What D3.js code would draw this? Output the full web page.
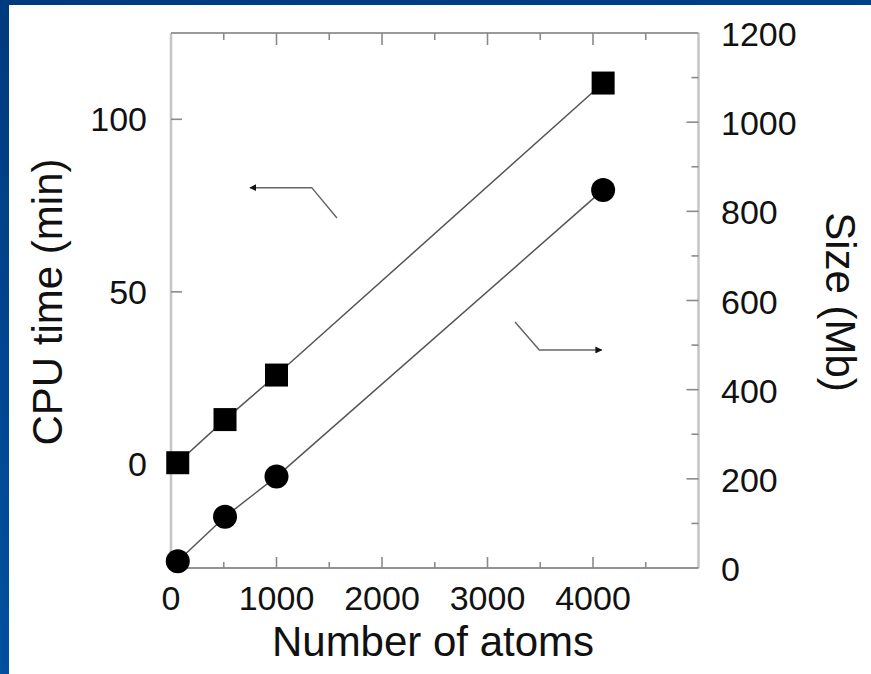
<!DOCTYPE html>
<html>
<head>
<meta charset="utf-8">
<script src="https://cdn.jsdelivr.net/npm/d3@7"></script>
<style>
  html, body { margin: 0; padding: 0; }
  svg { display: block; font-family: "Liberation Sans", Arial, Helvetica, sans-serif; }
</style>
</head>
<body>
<svg width="871" height="674"></svg>
<script>
// data
const atoms = [64, 512, 1000, 4096];
const cpuTime = [0.5, 13, 25.9, 110.5]; // min, left axis (squares)
const sizeMb = [15, 115, 205, 848]; // Mb, right axis (circles)

const xTicks = [0, 1000, 2000, 3000, 4000];
const xMinorTicks = [500, 1500, 2500, 3500, 4500];
const cpuTicks = [0, 50, 100];
const sizeTicks = [0, 200, 400, 600, 800, 1000, 1200];
const sizeMinorTicks = [100, 300, 500, 700, 900, 1100];

// annotation arrows, in data units of the axis they point to
const cpuArrow = [[749, 80.2], [1334, 80.2], [1573, 71.4]];
const sizeArrow = [[3261, 552], [3491, 489], [4082, 489]];

const svg = d3.select("svg");

// slide background
const defs = svg.append("defs");
const grad = defs.append("linearGradient")
  .attr("id", "bg")
  .attr("x1", 0).attr("y1", 0).attr("x2", 0.3).attr("y2", 1);
grad.append("stop").attr("offset", "0%").attr("stop-color", "#003a7e");
grad.append("stop").attr("offset", "100%").attr("stop-color", "#0052a3");
defs.append("marker")
  .attr("id", "head")
  .attr("viewBox", "0 0 10 10")
  .attr("refX", 9).attr("refY", 5)
  .attr("markerWidth", 7).attr("markerHeight", 7)
  .attr("markerUnits", "userSpaceOnUse")
  .attr("orient", "auto")
  .append("path")
  .attr("d", "M0,0L10,5L0,10z")
  .style("fill", "#111");

svg.append("rect").attr("width", 871).attr("height", 674).style("fill", "url(#bg)");
svg.append("rect").attr("x", 9).attr("y", 5).attr("width", 862).attr("height", 669).style("fill", "#fff");

const pLeft = 171, pRight = 698.5, pTop = 33, pBottom = 568;

const x = d3.scaleLinear().domain([0, 5000]).range([pLeft, pRight]);
const yCpu = d3.scaleLinear().domain([-30, 125]).range([pBottom, pTop]);
const ySize = d3.scaleLinear().domain([0, 1200]).range([pBottom, pTop]);

const frame = svg.append("g");
const tickColor = "#8a8a8a";

// frame lines
frame.append("line").attr("x1", pLeft).attr("x2", pLeft).attr("y1", pTop).attr("y2", pBottom)
  .style("stroke", "#c4c4c4").style("stroke-width", "2.5px");
frame.append("line").attr("x1", pRight).attr("x2", pRight).attr("y1", pTop).attr("y2", pBottom)
  .style("stroke", "#c4c4c4").style("stroke-width", "2.5px");
frame.append("line").attr("x1", pLeft).attr("x2", pRight).attr("y1", pTop).attr("y2", pTop)
  .style("stroke", "#9a9a9a").style("stroke-width", "2px");
frame.append("line").attr("x1", pLeft).attr("x2", pRight).attr("y1", pBottom).attr("y2", pBottom)
  .style("stroke", "#6e6e6e").style("stroke-width", "1.6px");

// x ticks, bottom and top, pointing inward
const xAll = xTicks.map((d) => ({ v: d, len: 11 }))
  .concat(xMinorTicks.map((d) => ({ v: d, len: 6 })))
  .filter((d) => d.v > 0);
frame.selectAll(".xb").data(xAll).join("line")
  .attr("x1", (d) => x(d.v)).attr("x2", (d) => x(d.v))
  .attr("y1", pBottom).attr("y2", (d) => pBottom - d.len)
  .style("stroke", tickColor).style("stroke-width", "1.6px");
frame.selectAll(".xt").data(xAll).join("line")
  .attr("x1", (d) => x(d.v)).attr("x2", (d) => x(d.v))
  .attr("y1", pTop).attr("y2", (d) => pTop + d.len + 1)
  .style("stroke", tickColor).style("stroke-width", "1.6px");

// left ticks
frame.selectAll(".yl").data(cpuTicks).join("line")
  .attr("x1", pLeft).attr("x2", pLeft + 11)
  .attr("y1", (d) => yCpu(d)).attr("y2", (d) => yCpu(d))
  .style("stroke", tickColor).style("stroke-width", "1.6px");

// right ticks
const sizeAll = sizeTicks.map((d) => ({ v: d, len: 12 }))
  .concat(sizeMinorTicks.map((d) => ({ v: d, len: 7 })))
  .filter((d) => d.v > 0 && d.v < 1200);
frame.selectAll(".yr").data(sizeAll).join("line")
  .attr("x1", pRight).attr("x2", (d) => pRight - d.len)
  .attr("y1", (d) => ySize(d.v)).attr("y2", (d) => ySize(d.v))
  .style("stroke", tickColor).style("stroke-width", "1.6px");

// tick labels
const labels = svg.append("g").style("font-size", "34px").style("fill", "#111");
labels.selectAll(".xl").data(xTicks).join("text")
  .attr("x", (d) => x(d)).attr("y", 610)
  .style("text-anchor", "middle")
  .text((d) => d);
labels.selectAll(".cl").data(cpuTicks).join("text")
  .attr("x", 147).attr("y", (d) => yCpu(d) + 12)
  .style("text-anchor", "end")
  .text((d) => d);
labels.selectAll(".sl").data(sizeTicks).join("text")
  .attr("x", 721).attr("y", (d) => ySize(d) + 13)
  .style("text-anchor", "start")
  .text((d) => d);

// axis titles
const titles = svg.append("g").style("font-size", "42px").style("fill", "#111");
titles.append("text")
  .attr("x", 433).attr("y", 656)
  .style("text-anchor", "middle")
  .text("Number of atoms");
titles.append("text")
  .attr("transform", "translate(62,302) rotate(-90)")
  .style("text-anchor", "middle")
  .text("CPU time (min)");
titles.append("text")
  .attr("transform", "translate(826,302) rotate(90)")
  .style("text-anchor", "middle")
  .text("Size (Mb)");

// series
const cpuData = atoms.map((a, i) => ({ x: a, y: cpuTime[i] }));
const sizeData = atoms.map((a, i) => ({ x: a, y: sizeMb[i] }));

const plot = svg.append("g");
plot.append("path")
  .datum(cpuData)
  .attr("d", d3.line().x((d) => x(d.x)).y((d) => yCpu(d.y)))
  .style("fill", "none").style("stroke", "#555").style("stroke-width", "1.5px");
plot.append("path")
  .datum(sizeData)
  .attr("d", d3.line().x((d) => x(d.x)).y((d) => ySize(d.y)))
  .style("fill", "none").style("stroke", "#555").style("stroke-width", "1.5px");

const sq = 23;
plot.selectAll(".sq").data(cpuData).join("rect")
  .attr("x", (d) => x(d.x) - sq / 2).attr("y", (d) => yCpu(d.y) - sq / 2)
  .attr("width", sq).attr("height", sq)
  .style("fill", "#000");
plot.selectAll(".ci").data(sizeData).join("circle")
  .attr("cx", (d) => x(d.x)).attr("cy", (d) => ySize(d.y))
  .attr("r", 12)
  .style("fill", "#000");

// arrows showing which axis each series belongs to
const arrowLine = (scaleY) => d3.line().x((d) => x(d[0])).y((d) => scaleY(d[1]));
plot.append("path")
  .attr("d", arrowLine(yCpu)(cpuArrow.slice().reverse()))
  .attr("marker-end", "url(#head)")
  .style("fill", "none").style("stroke", "#666").style("stroke-width", "1.5px");
plot.append("path")
  .attr("d", arrowLine(ySize)(sizeArrow))
  .attr("marker-end", "url(#head)")
  .style("fill", "none").style("stroke", "#666").style("stroke-width", "1.5px");
</script>
</body>
</html>
